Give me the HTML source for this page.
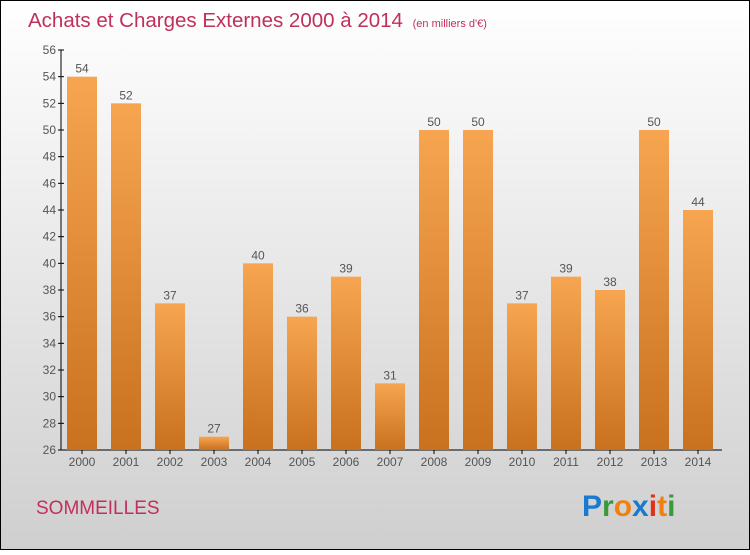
<!DOCTYPE html>
<html><head><meta charset="utf-8"><style>
body{margin:0;width:750px;height:550px;overflow:hidden;font-family:"Liberation Sans",sans-serif}
</style></head><body>
<svg width="750" height="550" xmlns="http://www.w3.org/2000/svg">
<defs>
<linearGradient id="bg" x1="0" y1="0" x2="0" y2="1"><stop offset="0" stop-color="#ffffff"/><stop offset="1" stop-color="#cfcfcf"/></linearGradient>
<linearGradient id="bar" x1="0" y1="0" x2="0" y2="1"><stop offset="0" stop-color="#f7a550"/><stop offset="1" stop-color="#c8711f"/></linearGradient>
</defs>
<rect x="0.5" y="0.5" width="749" height="549" fill="url(#bg)" stroke="#000"/>
<text x="28" y="27" font-size="20.5" fill="#c0305a">Achats et Charges Externes 2000 à 2014 <tspan font-size="11" dx="4">(en milliers d'€)</tspan></text>
<g id="axes"></g>
<g id="bars"></g>
<text x="36" y="514" font-size="19" fill="#c0305a">SOMMEILLES</text>
<g font-size="30" font-weight="bold">
<text x="582" y="516" font-family="Liberation Sans,sans-serif"><tspan fill="#1a7ad0">P</tspan><tspan fill="#3a9a3a">r</tspan><tspan fill="#f08010">o</tspan><tspan fill="#1a7ad0">x</tspan><tspan fill="#e03020">i</tspan><tspan fill="#f08010">t</tspan><tspan fill="#3a9a3a">i</tspan></text>
</g>
</svg>
<script>
const years=["2000","2001","2002","2003","2004","2005","2006","2007","2008","2009","2010","2011","2012","2013","2014"];
const values=[54,52,37,27,40,36,39,31,50,50,37,39,38,50,44];
const yTicks=[26,28,30,32,34,36,38,40,42,44,46,48,50,52,54,56];
const NS="http://www.w3.org/2000/svg";
const y0=450,y1=50,vmin=26,vmax=56,x0=61,step=44,bw=30,first=82;
const y=v=>y0-(v-vmin)*(y0-y1)/(vmax-vmin);
const x=i=>first+i*step;
function mk(t,a,p){const e=document.createElementNS(NS,t);for(const k in a)e.setAttribute(k,a[k]);p.appendChild(e);return e;}
const ax=document.getElementById('axes'),bg=document.getElementById('bars');
const yl=mk('line',{x1:x0,y1:y1,x2:x0,y2:y0,stroke:'#000'},ax);


const xl=mk('line',{x1:x0,y1:y0,x2:722,y2:y0,stroke:'#000'},ax);


yTicks.forEach(v=>{
 mk('line',{x1:x0-3,x2:x0+3,y1:y(v),y2:y(v),stroke:'#000'},ax);
 const t=mk('text',{x:x0-5,y:y(v)+4,'text-anchor':'end','font-size':12,fill:'#555'},ax);t.textContent=v;
 
 
});
years.forEach((yr,i)=>{
 const v=values[i];
 const r=mk('rect',{x:x(i)-bw/2,y:y(v),width:bw,height:y0-y(v),fill:'url(#bar)'},bg);
 
 
 const l=mk('text',{x:x(i),y:y(v)-4,'text-anchor':'middle','font-size':12,fill:'#555'},bg);l.textContent=v;
 
 
 mk('line',{x1:x(i),x2:x(i),y1:y0,y2:y0+4,stroke:'#000'},ax);
 const t=mk('text',{x:x(i),y:y0+16,'text-anchor':'middle','font-size':12,fill:'#555'},ax);t.textContent=yr;
 
 
});
</script>
</body></html>
